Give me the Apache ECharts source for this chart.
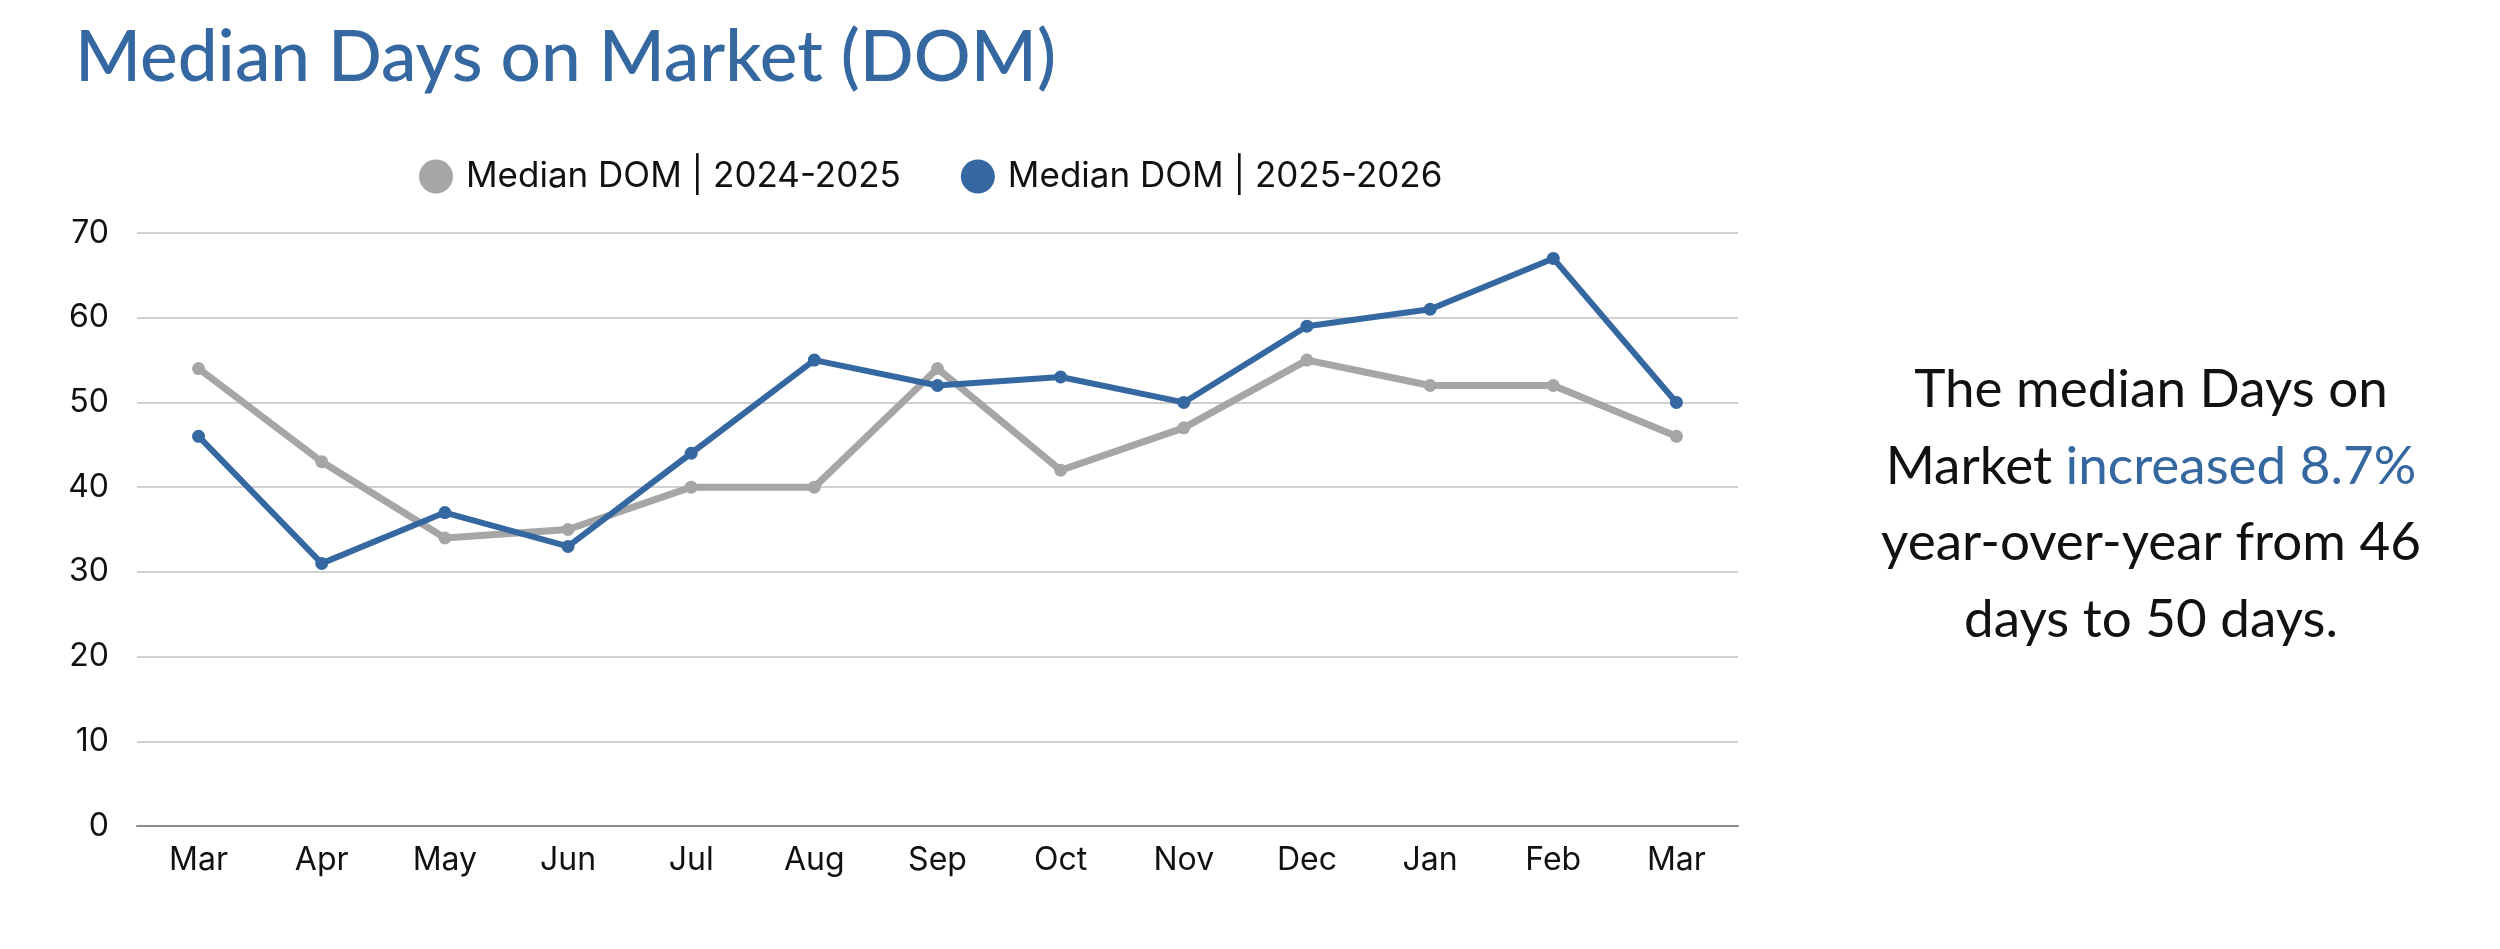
<!DOCTYPE html>
<html>
<head>
<meta charset="utf-8">
<script src="https://cdn.jsdelivr.net/npm/echarts@6/dist/echarts.min.js"></script>
<style>
html,body{margin:0;padding:0;background:#fff;}
#chart{width:2500px;height:949px;}
</style>
</head>
<body>
<div id="chart"></div>
<script>
const categories = ['Mar','Apr','May','Jun','Jul','Aug','Sep','Oct','Nov','Dec','Jan','Feb','Mar'];
const dom2024_2025 = [54,43,34,35,40,40,54,42,47,55,52,52,46];
const dom2025_2026 = [46,31,37,33,44,55,52,53,50,59,61,67,50];
const yTicks = [0,10,20,30,40,50,60,70];
const seriesNames = ['Median DOM | 2024-2025','Median DOM | 2025-2026'];

const BLUE = '#3567a0';
const GRAY = '#a6a6a6';
const AXIS_FONT = 'Inter, "Open Sans", sans-serif';
const HEAD_FONT = 'Lato, "Noto Sans", sans-serif';

const chart = echarts.init(document.getElementById('chart'), null, {renderer:'canvas'});
chart.setOption({
  backgroundColor:'#ffffff',
  animation:false,
  title:{
    text:'Median Days on Market (DOM)',
    left:70, top:18,
    textStyle:{color:BLUE, fontFamily:HEAD_FONT, fontSize:71, fontWeight:500}
  },
  legend:{
    data:seriesNames,
    left:414, top:154,
    icon:'circle',
    itemWidth:34, itemHeight:34, itemGap:60,
    textStyle:{fontFamily:AXIS_FONT, fontSize:35, color:'#111', padding:[0,0,0,8]}
  },
  grid:{left:137, right:762, top:233, bottom:123, containLabel:false},
  xAxis:{
    type:'category',
    data:categories,
    boundaryGap:true,
    axisLine:{show:true, lineStyle:{color:'#8a8a8a', width:2}},
    axisTick:{show:false},
    axisLabel:{fontFamily:AXIS_FONT, fontSize:32, color:'#111', margin:18},
    splitLine:{show:false}
  },
  yAxis:{
    type:'value',
    min:yTicks[0], max:yTicks[yTicks.length-1], interval:10,
    axisLine:{show:false},
    axisTick:{show:false},
    axisLabel:{fontFamily:AXIS_FONT, fontSize:32, color:'#111', margin:28},
    splitLine:{show:true, lineStyle:{color:'#d0d0d0', width:2}}
  },
  series:[
    {
      name:seriesNames[0], type:'line', data:dom2024_2025,
      symbol:'circle', symbolSize:13, showAllSymbol:true,
      lineStyle:{color:GRAY, width:7},
      itemStyle:{color:GRAY},
      z:2
    },
    {
      name:seriesNames[1], type:'line', data:dom2025_2026,
      symbol:'circle', symbolSize:13, showAllSymbol:true,
      lineStyle:{color:BLUE, width:6},
      itemStyle:{color:BLUE},
      z:3
    }
  ],
  graphic:[{
    type:'text',
    x:2151, y:505,
    style:{
      text:'The median Days on\nMarket {b|increased 8.7%}\nyear-over-year from 46\ndays to 50 days.',
      align:'center', verticalAlign:'middle',
      fontFamily:HEAD_FONT, fontSize:53, fill:'#111', lineHeight:76.5,
      rich:{b:{fill:BLUE, fontFamily:HEAD_FONT, fontSize:53, lineHeight:76.5}}
    }
  }]
});
</script>
</body>
</html>
